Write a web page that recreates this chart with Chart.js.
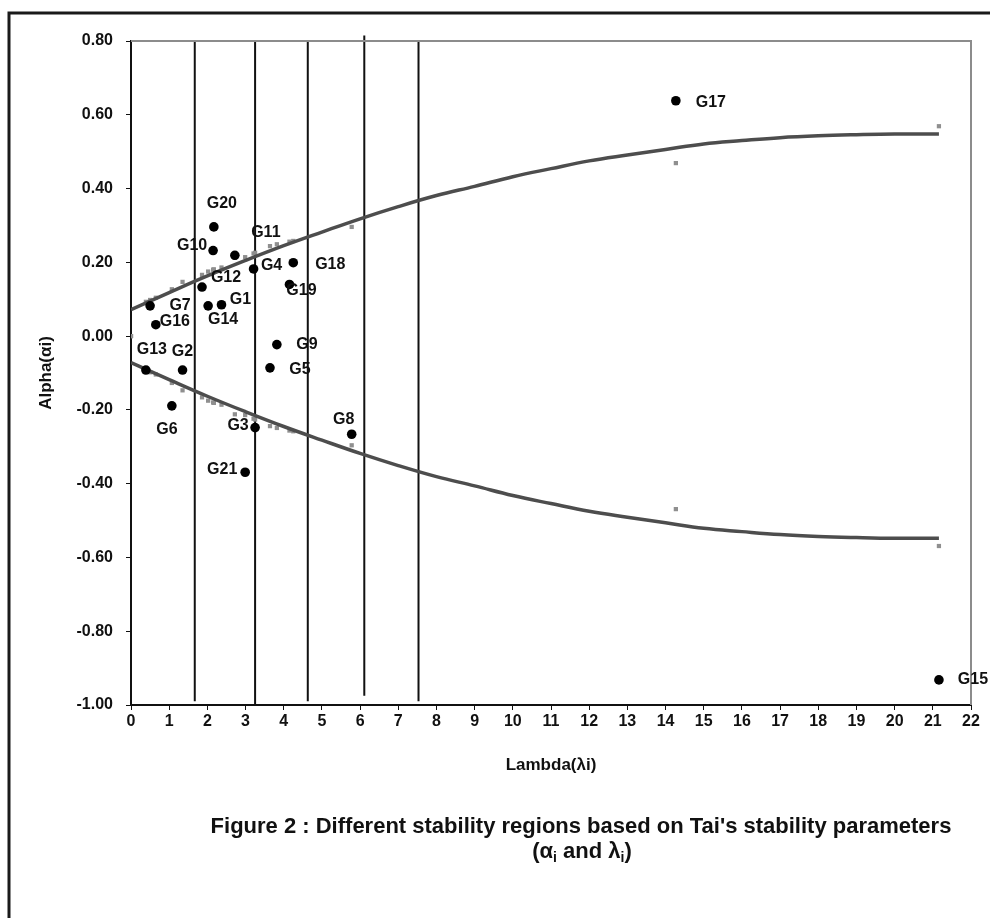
<!DOCTYPE html>
<html>
<head>
<meta charset="utf-8">
<script src="https://cdn.jsdelivr.net/npm/chart.js@4.4.1/dist/chart.umd.min.js"></script>
<style>
    body { margin: 0; background: #fff; }
    canvas { display: block; }
</style>
</head>
<body>
<canvas id="grafico" width="990" height="918"></canvas>
<script>
// genotypes and Tai's parameters
const genotipos = ["G1", "G2", "G3", "G4", "G5", "G6", "G7", "G8", "G9", "G10", "G11",
    "G12", "G13", "G14", "G15", "G16", "G17", "G18", "G19", "G20", "G21"];
const lambda = [2.37, 1.35, 3.25, 3.21, 3.64, 1.07, 0.50, 5.78, 3.82, 2.15, 2.72,
    1.86, 0.39, 2.02, 21.16, 0.65, 14.27, 4.25, 4.15, 2.17, 2.99];
const alpha = [0.085, -0.092, -0.248, 0.182, -0.086, -0.189, 0.082, -0.266, -0.023, 0.232, 0.219,
    0.133, -0.092, 0.082, -0.932, 0.031, 0.638, 0.199, 0.140, 0.296, -0.369];

// confidence limits (grey squares)
const limiteLambda = [0, 0.39, 0.50, 0.65, 1.07, 1.35, 1.86, 2.02, 2.15, 2.17, 2.37, 2.72,
    2.99, 3.21, 3.25, 3.64, 3.82, 4.15, 4.25, 5.78, 14.27, 21.16];
const limiteSuperior = [0.000, 0.093, 0.098, 0.104, 0.127, 0.147, 0.166, 0.175, 0.180, 0.181, 0.186, 0.212,
    0.214, 0.224, 0.226, 0.244, 0.249, 0.256, 0.258, 0.296, 0.469, 0.569];
const limiteInferior = [0.000, -0.093, -0.098, -0.104, -0.127, -0.147, -0.166, -0.175, -0.180, -0.181, -0.186, -0.212,
    -0.214, -0.224, -0.226, -0.244, -0.249, -0.256, -0.258, -0.296, -0.469, -0.569];

// fitted curves
const curvaX = [0, 1, 2, 3, 4, 5, 6, 7, 8, 9, 10, 11, 12, 13, 14, 15, 16, 17, 18, 19, 20, 21.16];
const curvaSuperior = [0.072, 0.118, 0.163, 0.205, 0.245, 0.282, 0.318, 0.351, 0.381, 0.406, 0.432,
    0.454, 0.475, 0.491, 0.506, 0.521, 0.530, 0.538, 0.543, 0.546, 0.548, 0.548];
const curvaInferior = [-0.072, -0.118, -0.163, -0.205, -0.245, -0.282, -0.318, -0.351, -0.381, -0.406, -0.432,
    -0.454, -0.475, -0.491, -0.506, -0.521, -0.530, -0.538, -0.543, -0.546, -0.548, -0.548];

// region boundaries (vertical lines)
const regioes = [1.67, 3.25, 4.63, 6.11, 7.53];
const regiaoTopo = [0.80, 0.80, 0.80, 0.815, 0.80];
const regiaoBase = [-0.99, -1.00, -0.99, -0.975, -0.99];

const yTicks = [-1.0, -0.8, -0.6, -0.4, -0.2, 0.0, 0.2, 0.4, 0.6, 0.8];

// label offsets from each dot (px)
const rotuloDx = [19, 0, -17, 18, 30, -5, 30, -8, 30, -21, 31, 24, 6, 15, 34, 19, 35, 37, 12, 8, -23];
const rotuloDy = [-5, -18, -2, -3, 2, 24, 0, -15, 0, -5, -23, -9, -20, 14, 0, -3, 2, 2, 6, -23, -3];

const FONTE = "'Liberation Sans', Arial, sans-serif";

function pontos(xs, ys) {
    return xs.map((x, i) => ({ x: x, y: ys[i] }));
}

const datasets = [];

regioes.forEach((x, i) => {
    datasets.push({
        type: "line",
        data: [{ x: x, y: regiaoTopo[i] }, { x: x, y: regiaoBase[i] }],
        borderColor: "#111",
        borderWidth: 2,
        pointRadius: 0,
        clip: false,
        order: 5
    });
});

datasets.push({
    type: "scatter",
    data: pontos(limiteLambda, limiteSuperior),
    pointStyle: "rect",
    pointRadius: 3,
    backgroundColor: "#8f8f8f",
    borderWidth: 0,
    order: 4
});
datasets.push({
    type: "scatter",
    data: pontos(limiteLambda, limiteInferior),
    pointStyle: "rect",
    pointRadius: 3,
    backgroundColor: "#8f8f8f",
    borderWidth: 0,
    order: 4
});

datasets.push({
    type: "line",
    data: pontos(curvaX, curvaSuperior),
    borderColor: "#4d4d4d",
    borderWidth: 3.5,
    pointRadius: 0,
    tension: 0.4,
    order: 3
});
datasets.push({
    type: "line",
    data: pontos(curvaX, curvaInferior),
    borderColor: "#4d4d4d",
    borderWidth: 3.5,
    pointRadius: 0,
    tension: 0.4,
    order: 3
});

datasets.push({
    type: "scatter",
    data: pontos(lambda, alpha),
    pointRadius: 4.8,
    backgroundColor: "#000",
    borderWidth: 0,
    clip: false,
    order: 1
});
const idxGenotipos = datasets.length - 1;

const molduraPlugin = {
    id: "moldura",
    beforeDraw(chart) {
        const ctx = chart.ctx;
        ctx.save();
        ctx.fillStyle = "#fff";
        ctx.fillRect(0, 0, chart.width, chart.height);
        ctx.strokeStyle = "#1a1a1a";
        ctx.lineWidth = 3;
        ctx.beginPath();
        ctx.moveTo(9, 918);
        ctx.lineTo(9, 13);
        ctx.lineTo(990, 13);
        ctx.stroke();
        ctx.restore();
    },
    afterDraw(chart) {
        const ctx = chart.ctx;
        const a = chart.chartArea;
        ctx.save();
        // grey top and right plot border
        ctx.strokeStyle = "#8c8c8c";
        ctx.lineWidth = 2;
        ctx.beginPath();
        ctx.moveTo(a.left, a.top);
        ctx.lineTo(a.right, a.top);
        ctx.lineTo(a.right, a.bottom);
        ctx.stroke();

        // genotype labels
        const meta = chart.getDatasetMeta(idxGenotipos);
        ctx.fillStyle = "#111";
        ctx.font = "bold 16px " + FONTE;
        ctx.textAlign = "center";
        ctx.textBaseline = "middle";
        meta.data.forEach((p, i) => {
            ctx.fillText(genotipos[i], p.x + rotuloDx[i], p.y + rotuloDy[i]);
        });

        // axis titles
        ctx.font = "bold 17px " + FONTE;
        ctx.fillText("Lambda(\u03bbi)", (a.left + a.right) / 2, 765);
        ctx.save();
        ctx.translate(46, (a.top + a.bottom) / 2);
        ctx.rotate(-Math.PI / 2);
        ctx.fillText("Alpha(\u03b1i)", 0, 0);
        ctx.restore();

        // caption
        ctx.font = "bold 22px " + FONTE;
        ctx.fillText("Figure 2 : Different stability regions based on Tai's stability parameters", 581, 827);

        const partes = [["(\u03b1", false], ["i", true], [" and \u03bb", false], ["i", true], [")", false]];
        const fN = "bold 22px " + FONTE;
        const fS = "bold 14px " + FONTE;
        let largura = 0;
        partes.forEach(p => {
            ctx.font = p[1] ? fS : fN;
            largura += ctx.measureText(p[0]).width;
        });
        let x = 582 - largura / 2;
        ctx.textAlign = "left";
        partes.forEach(p => {
            ctx.font = p[1] ? fS : fN;
            ctx.fillText(p[0], x, p[1] ? 858 : 852);
            x += ctx.measureText(p[0]).width;
        });
        ctx.restore();
    }
};

new Chart(document.getElementById("grafico"), {
    type: "scatter",
    data: { datasets },
    options: {
        responsive: false,
        animation: false,
        devicePixelRatio: 1,
        layout: { padding: { left: 0, right: 19, top: 41, bottom: 0 } },
        plugins: {
            legend: { display: false },
            tooltip: { enabled: false }
        },
        scales: {
            x: {
                type: "linear",
                min: 0,
                max: 22,
                afterFit(scale) { scale.height = 213; },
                ticks: {
                    stepSize: 1,
                    color: "#111",
                    padding: 2,
                    font: { family: FONTE, size: 16, weight: "bold" }
                },
                grid: { drawOnChartArea: false, drawTicks: true, tickLength: 5, color: "#111" },
                border: { display: true, color: "#111", width: 2 }
            },
            y: {
                type: "linear",
                min: -1,
                max: 0.8,
                afterFit(scale) { scale.width = 131; },
                afterBuildTicks(scale) {
                    scale.ticks = yTicks.map(v => ({ value: v }));
                },
                ticks: {
                    color: "#111",
                    padding: 13,
                    font: { family: FONTE, size: 16, weight: "bold" },
                    callback: v => (Math.abs(v) < 1e-9 ? 0 : v).toFixed(2)
                },
                grid: { drawOnChartArea: false, drawTicks: true, tickLength: 5, color: "#111" },
                border: { display: true, color: "#111", width: 2 }
            }
        }
    },
    plugins: [molduraPlugin]
});
</script>
</body>
</html>
